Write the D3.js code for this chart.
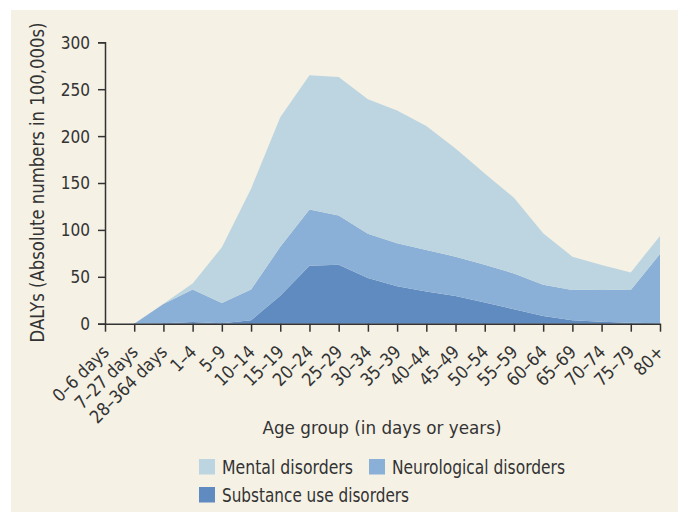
<!DOCTYPE html>
<html>
<head>
<meta charset="utf-8">
<script src="https://d3js.org/d3.v7.min.js"></script>
<style>
body { margin: 0; background: #fff; }
text { font-family: "DejaVu Sans", sans-serif; fill: #333; }
</style>
</head>
<body>
<div id="chart"></div>
<script>
// age groups on the x axis
var ageGroups = ["0–6 days", "7–27 days", "28–364 days", "1–4", "5–9", "10–14", "15–19",
  "20–24", "25–29", "30–34", "35–39", "40–44", "45–49", "50–54", "55–59", "60–64",
  "65–69", "70–74", "75–79", "80+"];

// DALYs, 100,000s, per disorder group
var substance = [0, 0, 0.5, 1.8, 0.5, 3.6, 29.7, 61.8, 62.9, 48.6, 40, 34.3, 29.4, 22.5, 15.4, 8.2, 3.6, 2.1, 1, 0.5];
var neurological = [0, 0, 20.5, 34.6, 21.7, 32.8, 52.3, 60, 52.5, 47.2, 45.7, 44.3, 42.1, 40.4, 38.2, 33.3, 32.2, 34.3, 34.8, 73.9];
var mental = [0, 0, 0.4, 6.5, 59.2, 107.6, 138, 143.2, 147.6, 143.6, 141.5, 132.2, 115.3, 97.1, 80.8, 54.9, 35.7, 26.2, 18.9, 19.2];

var yTicks = [0, 50, 100, 150, 200, 250, 300];

var seriesKeys = ["substance", "neurological", "mental"];
var seriesNames = {mental: "Mental disorders", neurological: "Neurological disorders", substance: "Substance use disorders"};
var colors = {mental: "#bcd5e0", neurological: "#8ab0d7", substance: "#5f8bc0"};

var table = ageGroups.map(function(g, i) {
  return {group: g, substance: substance[i], neurological: neurological[i], mental: mental[i]};
});

// squeeze text horizontally, the original uses a condensed face
function condense(sel, k) {
  sel.each(function() {
    var len = this.getComputedTextLength();
    d3.select(this).attr("textLength", len * k).attr("lengthAdjust", "spacingAndGlyphs");
  });
}

var W = 678, H = 512;
var margin = {top: 42, right: 18, bottom: 189, left: 105};
var width = W - margin.left - margin.right,
    height = H - margin.top - margin.bottom;

var svg = d3.select("#chart").append("svg")
  .attr("width", W)
  .attr("height", H);

// beige panel
svg.append("rect")
  .attr("x", 11).attr("y", 10)
  .attr("width", W - 11).attr("height", H - 10)
  .attr("fill", "#f5f1e5");

var g = svg.append("g")
  .attr("transform", "translate(" + margin.left + "," + margin.top + ")");

var x = d3.scalePoint()
  .domain(ageGroups)
  .range([0, 555]);

var y = d3.scaleLinear()
  .domain([0, 300])
  .range([height + 0.7, 0.3]);

var stack = d3.stack().keys(seriesKeys);
var layers = stack(table);

var area = d3.area()
  .x(function(d) { return x(d.data.group); })
  .y0(function(d) { return y(d[0]); })
  .y1(function(d) { return y(d[1]); });

g.selectAll(".layer")
  .data(layers)
  .enter()
  .append("path")
  .attr("class", "layer")
  .attr("d", area)
  .attr("fill", function(d) { return colors[d.key]; });

// y axis
var yAxis = g.append("g")
  .call(d3.axisLeft(y).tickValues(yTicks).tickSize(7).tickPadding(8));
yAxis.select(".domain").attr("stroke", "#333").attr("stroke-width", 1.5);
yAxis.selectAll(".tick line").attr("stroke", "#333").attr("stroke-width", 1.5);
yAxis.selectAll("text").style("font-size", "18.5px").attr("fill", "#333").call(condense, 0.83);

// x axis
var xAxis = g.append("g")
  .attr("transform", "translate(0," + y(0) + ")")
  .call(d3.axisBottom(x).tickSize(8).tickSizeOuter(0));
xAxis.select(".domain").attr("stroke", "#333").attr("stroke-width", 1.5);
xAxis.selectAll(".tick line").attr("stroke", "#333").attr("stroke-width", 1.5);
xAxis.selectAll("text")
  .style("font-size", "18px")
  .attr("fill", "#333")
  .attr("text-anchor", "end")
  .attr("dy", "0.35em")
  .attr("transform", "translate(0,25) rotate(-45)")
  .attr("x", 0).attr("y", 0)
  .call(condense, 0.88);

// axis titles
svg.append("text")
  .attr("transform", "translate(43.5,182.5) rotate(-90)")
  .attr("text-anchor", "middle")
  .style("font-size", "20px")
  .attr("textLength", 320).attr("lengthAdjust", "spacingAndGlyphs")
  .text("DALYs (Absolute numbers in 100,000s)");

svg.append("text")
  .attr("x", 382).attr("y", 434)
  .attr("text-anchor", "middle")
  .style("font-size", "18.5px")
  .attr("textLength", 239).attr("lengthAdjust", "spacingAndGlyphs")
  .text("Age group (in days or years)");

// legend
var legendItems = [
  {key: "mental", x: 199, y: 459, w: 131},
  {key: "neurological", x: 369, y: 459, w: 173},
  {key: "substance", x: 199, y: 487, w: 187}
];
var leg = svg.selectAll(".legend")
  .data(legendItems)
  .enter()
  .append("g")
  .attr("class", "legend")
  .attr("transform", function(d) { return "translate(" + d.x + "," + d.y + ")"; });
leg.append("rect")
  .attr("width", 16).attr("height", 15.5)
  .attr("fill", function(d) { return colors[d.key]; });
leg.append("text")
  .attr("x", 23).attr("y", 14.5)
  .style("font-size", "19.5px")
  .attr("textLength", function(d) { return d.w; })
  .attr("lengthAdjust", "spacingAndGlyphs")
  .text(function(d) { return seriesNames[d.key]; });
</script>
</body>
</html>
